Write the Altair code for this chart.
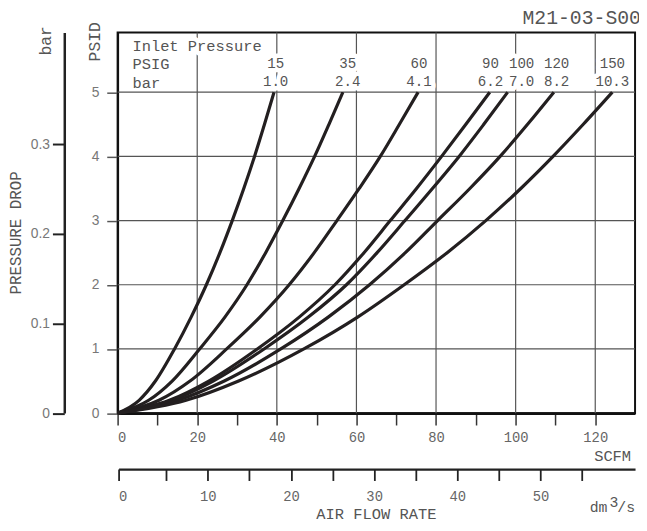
import altair as alt
import pandas as pd

# ---------------- data ----------------
psid_levels = [0, 0.2, 0.5, 1, 1.5, 2, 2.5, 3, 3.5, 4, 4.5, 5]
flow_15 = [0, 5.4, 9.5, 14.3, 18.5, 22.3, 25.7, 28.8, 31.7, 34.4, 36.9, 39.3]
flow_35 = [0, 7.8, 13.7, 20.6, 27.0, 32.5, 37.2, 41.5, 45.6, 49.5, 53.1, 56.6]
flow_60 = [0, 10.4, 18.2, 27.4, 35.8, 43.1, 49.4, 55.1, 60.7, 66.0, 70.8, 75.5]
flow_90 = [0, 13.0, 22.9, 35.1, 45.7, 54.6, 61.9, 68.5, 75.1, 81.4, 87.5, 93.5]
flow_100 = [0, 13.6, 24.0, 36.8, 48.0, 57.5, 65.2, 72.2, 79.1, 85.8, 92.0, 98.0]
flow_120 = [0, 15.1, 26.8, 41.0, 53.0, 63.3, 72.3, 80.4, 88.5, 96.1, 103.0, 109.6]
flow_150 = [0, 17.2, 30.4, 46.8, 60.4, 72.0, 82.8, 92.5, 101.3, 109.4, 117.0, 124.3]

series_psig = ["15", "35", "60", "90", "100", "120", "150"]
series_bar = ["1.0", "2.4", "4.1", "6.2", "7.0", "8.2", "10.3"]
label_x = [39.7, 57.8, 75.7, 93.7, 101.5, 110.3, 124.3]

scfm_ticks = list(range(0, 130, 10))
psid_ticks = [0, 1, 2, 3, 4, 5]
bar_ticks = [0, 0.1, 0.2, 0.3]
dm_ticks = list(range(0, 60, 5))
grid_x = [20, 40, 60, 80, 100, 120]
grid_y = [1, 2, 3, 4, 5]

rows = []
for name, flows in zip(series_psig, [flow_15, flow_35, flow_60, flow_90,
                                      flow_100, flow_120, flow_150]):
    for q, p in zip(flows, psid_levels):
        rows.append({"series": name, "flow": q, "psid": p})
curves_df = pd.DataFrame(rows)
labels_df = pd.DataFrame({"x": label_x, "psig": series_psig, "bar": series_bar})
dummy = pd.DataFrame({"a": [0]})

MONO = "Liberation Mono"
SANS = "Liberation Sans"
TXT = "#555555"

X = alt.Scale(domain=[0, 130], nice=False, zero=False)
Y = alt.Scale(domain=[0, 5.931], nice=False, zero=False)

xaxis = alt.Axis(values=scfm_ticks,
                 labelExpr="datum.value % 20 == 0 ? datum.label : ''",
                 grid=False, title=None, tickSize=12, tickColor="#333333",
                 tickWidth=1.5, domainColor="#111111", domainWidth=3,
                 labelFont=MONO, labelFontSize=14, labelColor="#666666",
                 labelPadding=6)
yaxis = alt.Axis(values=psid_ticks, grid=False, title=None, tickSize=11,
                 tickColor="#555555", tickWidth=1.5, domainColor="#111111",
                 domainWidth=2, labelFont=SANS, labelFontSize=14,
                 labelColor="#777777", labelPadding=8)

vgrid = alt.Chart(pd.DataFrame({"g": grid_x})).mark_rule(
    color="#555555", strokeWidth=1.2).encode(
    x=alt.X("g:Q", scale=X, axis=xaxis))
hgrid = alt.Chart(pd.DataFrame({"g": grid_y})).mark_rule(
    color="#555555", strokeWidth=1.2).encode(
    y=alt.Y("g:Q", scale=Y, axis=yaxis))

halo = dict(stroke="white", strokeWidth=9, fill="white", strokeJoin="round")

def num_text(field, ypix, **kw):
    return alt.Chart(labels_df).mark_text(
        font=MONO, fontSize=14.3, align="center", baseline="alphabetic", **kw
    ).encode(x=alt.X("x:Q", scale=X, axis=xaxis), y=alt.value(ypix),
             text=f"{field}:N")

def head_text(txt, ypix, **kw):
    return alt.Chart(dummy).mark_text(
        text=txt, font=MONO, fontSize=15.6, align="left",
        baseline="alphabetic", **kw
    ).encode(x=alt.value(15), y=alt.value(ypix))

halos = [num_text("psig", 36.5, **halo), num_text("bar", 54.5, **halo),
         head_text("Inlet Pressure", 18.8, **halo)]
texts = [num_text("psig", 36.5, color=TXT), num_text("bar", 54.5, color=TXT),
         head_text("Inlet Pressure", 18.8, color=TXT),
         head_text("PSIG", 37.2, color=TXT),
         head_text("bar", 56, color=TXT)]

curves = alt.Chart(curves_df).mark_line(
    interpolate="monotone", color="#231f20", strokeWidth=3.2).encode(
    x=alt.X("flow:Q", scale=X, axis=xaxis),
    y=alt.Y("psid:Q", scale=Y, axis=yaxis),
    detail="series:N")

def note(txt, x, y, size=15.6, angle=0, align="left", baseline="alphabetic"):
    props = dict(text=txt, font=MONO, fontSize=size, align=align,
                 baseline=baseline, color=TXT)
    if angle:
        props["angle"] = angle
    return alt.Chart(dummy).mark_text(**props).encode(
        x=alt.value(x), y=alt.value(y))

notes = [
    note("PSID", -23, 9.5, size=16.5, angle=270, align="center", baseline="middle"),
    note("bar", -72, 8.5, size=16.5, angle=270, align="center", baseline="middle"),
    note("PRESSURE DROP", -102.5, 203, size=16, angle=270, align="center",
         baseline="middle"),
    note("SCFM", 520, 433.5, size=15.6, align="right"),
    note("dm", 478, 485.5, size=15),
    note("3", 498, 480.5, size=15),
    note("/s", 506, 485.5, size=15),
    note("AIR FLOW RATE", 262, 492.5, size=15.6, align="center"),
    note("M21-03-S001", 410, -8.8, size=20),
]

main = alt.layer(vgrid, hgrid, *halos, *texts, curves, *notes)

bar_layer = alt.Chart(pd.DataFrame({"v": bar_ticks})).mark_point(opacity=0).encode(
    y=alt.Y("v:Q", scale=alt.Scale(domain=[0, 0.4246], nice=False, zero=False),
            axis=alt.Axis(orient="left", offset=54, values=bar_ticks,
                          format=".1~f", title=None, grid=False, tickSize=12,
                          tickColor="#222222", tickWidth=2,
                          domainColor="#222222", domainWidth=2.5,
                          labelFont=SANS, labelFontSize=14,
                          labelColor="#777777", labelPadding=3)))

dm_layer = alt.Chart(pd.DataFrame({"v": dm_ticks})).mark_point(opacity=0).encode(
    x=alt.X("v:Q",
            scale=alt.Scale(domain=[0, 5, 61.38], range=[1, 49.3, 524],
                            nice=False, zero=False),
            axis=alt.Axis(orient="bottom", offset=56.7, values=dm_ticks,
                          labelExpr="datum.value % 10 == 0 ? datum.label : ''",
                          title=None, grid=False, tickSize=11.5,
                          tickColor="#222222", tickWidth=1.8,
                          domainColor="#222222", domainWidth=2.5,
                          labelFont=MONO, labelFontSize=14,
                          labelColor="#666666", labelPadding=9)))

chart = alt.layer(main, bar_layer, dm_layer).resolve_scale(
    x="independent", y="independent"
).properties(
    width=524, height=385.5,
    autosize=alt.AutoSizeParams(type="none"),
    padding={"left": 111, "top": 21.5, "right": 4, "bottom": 108},
    background="white",
).configure_view(stroke="#111111", strokeWidth=2)

chart.save("out.html", embed_options={"renderer": "svg", "actions": False})
